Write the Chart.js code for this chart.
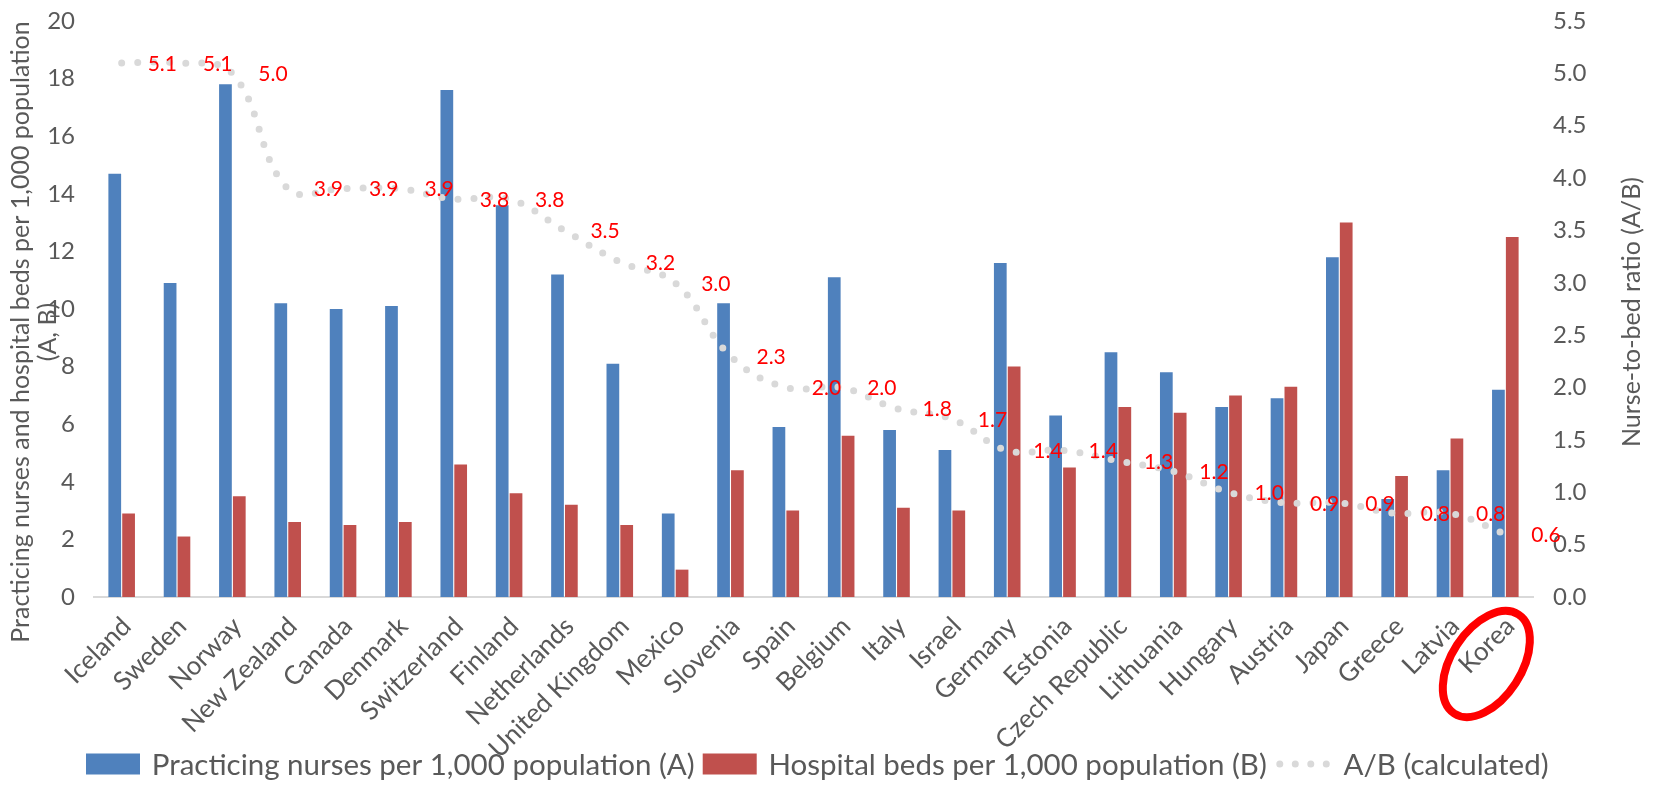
<!DOCTYPE html>
<html>
<head>
<meta charset="utf-8">
<script src="https://cdn.jsdelivr.net/npm/chart.js@4.4.1/dist/chart.umd.min.js"></script>
<style>
  html, body { margin: 0; padding: 0; background: #fff; }
  #chart { display: block; }
</style>
</head>
<body>
<canvas id="chart" width="1656" height="785"></canvas>
<script>
const countries = ['Iceland', 'Sweden', 'Norway', 'New Zealand', 'Canada', 'Denmark', 'Switzerland', 'Finland',
    'Netherlands', 'United Kingdom', 'Mexico', 'Slovenia', 'Spain', 'Belgium', 'Italy', 'Israel', 'Germany',
    'Estonia', 'Czech Republic', 'Lithuania', 'Hungary', 'Austria', 'Japan', 'Greece', 'Latvia', 'Korea'];
const nurses = [14.7, 10.9, 17.8, 10.2, 10.0, 10.1, 17.6, 13.6, 11.2, 8.1, 2.9, 10.2, 5.9, 11.1, 5.8, 5.1, 11.6,
    6.3, 8.5, 7.8, 6.6, 6.9, 11.8, 3.4, 4.4, 7.2];
const beds = [2.9, 2.1, 3.5, 2.6, 2.5, 2.6, 4.6, 3.6, 3.2, 2.5, 0.95, 4.4, 3.0, 5.6, 3.1, 3.0, 8.0,
    4.5, 6.6, 6.4, 7.0, 7.3, 13.0, 4.2, 5.5, 12.5];
const ratio = [5.1, 5.1, 5.0, 3.9, 3.9, 3.9, 3.8, 3.8, 3.5, 3.2, 3.0, 2.3, 2.0, 2.0, 1.8, 1.7, 1.4,
    1.4, 1.3, 1.2, 1.0, 0.9, 0.9, 0.8, 0.8, 0.6];
const leftTitle = ['Practicing nurses and hospital beds per 1,000 population', '(A, B)'];
const rightTitle = 'Nurse-to-bed ratio (A/B)';
const highlight = 'Korea';

const grey = '#595959';
const font = 'Lato';

// axis titles, drawn by hand so the two-line left title can sit over the ticks
const axisTitles = {
    id: 'axisTitles',
    afterDraw(chart) {
        const ctx = chart.ctx;
        ctx.save();
        ctx.fillStyle = grey;
        ctx.font = '25px ' + font;
        ctx.textAlign = 'center';
        ctx.textBaseline = 'middle';
        ctx.translate(21, 332);
        ctx.rotate(-Math.PI / 2);
        ctx.fillText(leftTitle[0], 0, 0);
        ctx.fillText(leftTitle[1], 0, 27);
        ctx.restore();

        ctx.save();
        ctx.fillStyle = grey;
        ctx.font = '25px ' + font;
        ctx.textAlign = 'center';
        ctx.textBaseline = 'middle';
        ctx.translate(1632, 312);
        ctx.rotate(-Math.PI / 2);
        ctx.fillText(rightTitle, 0, 0);
        ctx.restore();
    }
};

// red value labels to the right of each ratio point
const ratioLabels = {
    id: 'ratioLabels',
    afterDatasetsDraw(chart) {
        const ctx = chart.ctx;
        const meta = chart.getDatasetMeta(2);
        ctx.save();
        ctx.fillStyle = '#FF0000';
        ctx.font = '21px ' + font;
        ctx.textAlign = 'left';
        ctx.textBaseline = 'middle';
        meta.data.forEach((pt, i) => {
            ctx.fillText(ratio[i].toFixed(1), pt.x + 26, pt.y + 1);
        });
        ctx.restore();
    }
};

// legend row along the bottom
const bottomLegend = {
    id: 'bottomLegend',
    afterDraw(chart) {
        const ctx = chart.ctx;
        const y = 764;
        let x = 86;
        ctx.save();
        ctx.font = '29.5px ' + font;
        ctx.textBaseline = 'middle';
        chart.data.datasets.forEach(d => {
            if (d.type === 'line') {
                ctx.save();
                ctx.strokeStyle = d.borderColor;
                ctx.lineWidth = d.borderWidth;
                ctx.lineCap = 'round';
                ctx.setLineDash([0, 15.5]);
                ctx.beginPath();
                ctx.moveTo(x + 5, y);
                ctx.lineTo(x + 53, y);
                ctx.stroke();
                ctx.restore();
                x += 68.7;
            } else {
                ctx.fillStyle = d.backgroundColor;
                ctx.fillRect(x, y - 10.5, 54, 21);
                x += 65.7;
            }
            ctx.fillStyle = grey;
            ctx.fillText(d.label, x, y + 1);
            x += ctx.measureText(d.label).width + 8;
        });
        ctx.restore();
    }
};

// red ring around one country name
const ring = {
    id: 'ring',
    afterDraw(chart) {
        const xs = chart.scales.x;
        const i = countries.indexOf(highlight);
        const cx = xs.getPixelForTick(i) - 19;
        const cy = chart.chartArea.bottom + 67;
        const ctx = chart.ctx;
        ctx.save();
        ctx.strokeStyle = '#FF0000';
        ctx.lineWidth = 8;
        ctx.beginPath();
        ctx.ellipse(cx, cy, 59, 35, -57 * Math.PI / 180, 0, Math.PI * 2);
        ctx.stroke();
        ctx.restore();
    }
};

// keep the plot box where it is: no extra room for half tick labels
function noPad(s) {
    s.paddingTop = 0;
    s.paddingBottom = 0;
    s.paddingLeft = 0;
    s.paddingRight = 0;
}

const ctx = document.getElementById('chart').getContext('2d');

function build() {
    new Chart(ctx, {
        type: 'bar',
        data: {
            labels: countries,
            datasets: [{
                label: 'Practicing nurses per 1,000 population (A)',
                data: nurses,
                backgroundColor: '#4F81BD',
                yAxisID: 'y',
                categoryPercentage: 0.5,
                barPercentage: 0.92,
                order: 1
            }, {
                label: 'Hospital beds per 1,000 population (B)',
                data: beds,
                backgroundColor: '#C0504D',
                yAxisID: 'y',
                categoryPercentage: 0.5,
                barPercentage: 0.92,
                order: 1
            }, {
                type: 'line',
                label: 'A/B (calculated)',
                data: ratio,
                yAxisID: 'y1',
                borderColor: '#D9D9D9',
                backgroundColor: '#D9D9D9',
                borderWidth: 7,
                borderDash: [0, 16],
                borderCapStyle: 'round',
                pointRadius: 0,
                tension: 0.4,
                fill: false,
                order: 0
            }]
        },
        options: {
            responsive: false,
            animation: false,
            layout: { padding: { top: 21, left: 0, right: 0, bottom: 0 } },
            plugins: {
                legend: { display: false },
                tooltip: { enabled: false }
            },
            scales: {
                x: {
                    grid: { display: false, drawTicks: false },
                    border: { color: '#D9D9D9', width: 2 },
                    ticks: {
                        autoSkip: false,
                        maxRotation: 45,
                        minRotation: 45,
                        padding: 14,
                        labelOffset: 5,
                        color: grey,
                        font: { family: font, size: 26 }
                    },
                    afterFit(s) { noPad(s); s.height = 188; }
                },
                y: {
                    position: 'left',
                    min: 0,
                    max: 20,
                    grid: { display: false, drawTicks: false },
                    border: { display: false },
                    ticks: {
                        stepSize: 2,
                        padding: 19,
                        color: grey,
                        font: { family: font, size: 24 }
                    },
                    afterFit(s) { noPad(s); s.width = 94; }
                },
                y1: {
                    position: 'right',
                    min: 0,
                    max: 5.5,
                    grid: { display: false, drawTicks: false },
                    border: { display: false },
                    ticks: {
                        stepSize: 0.5,
                        padding: 20,
                        color: grey,
                        font: { family: font, size: 24 },
                        callback: v => v.toFixed(1)
                    },
                    afterFit(s) { noPad(s); s.width = 123; }
                }
            }
        },
        plugins: [ratioLabels, axisTitles, bottomLegend, ring]
    });
}

document.fonts.load('24px ' + font).then(build, build);
</script>
</body>
</html>
